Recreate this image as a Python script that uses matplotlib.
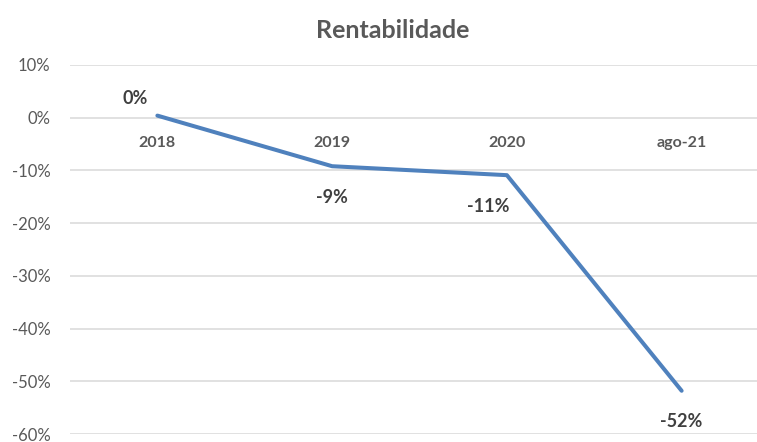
import matplotlib.pyplot as plt
from matplotlib.ticker import FuncFormatter, MultipleLocator

categories = ['2018', '2019', '2020', 'ago-21']
rentabilidade = [0.004, -0.092, -0.109, -0.518]
# label offsets in pixels (label placement as in the original sheet)
label_offsets = [(-22, 17), (0, -31), (-19, -31), (0, -31)]

plt.rcParams['font.family'] = ['Lato', 'DejaVu Sans']

fig = plt.figure(figsize=(7.57, 4.42), dpi=100)
ax = fig.add_axes([70 / 757, 1 - 434 / 442, 699 / 757, (434 - 65) / 442])

x = list(range(len(categories)))
ax.plot(x, rentabilidade, color='#4F81BD', linewidth=2.9, solid_capstyle='round', zorder=3)

ax.set_xlim(-0.5, len(categories) - 0.5)
ax.set_ylim(-0.6, 0.1)
ax.yaxis.set_major_locator(MultipleLocator(0.1))
ax.yaxis.set_major_formatter(FuncFormatter(lambda v, _: f'{v * 100:.0f}%'))
ax.grid(axis='y', color='#D9D9D9', linewidth=1.1)
ax.set_axisbelow(True)
ax.set_xticks([])
ax.tick_params(axis='y', length=0, pad=14, labelsize=12, labelcolor='#595959')
for s in ax.spines.values():
    s.set_visible(False)

# category labels sit on the zero line
for i, cat in enumerate(categories):
    ax.annotate(cat, (i, 0), xytext=(0, -25), textcoords='offset pixels',
                ha='center', va='center', fontsize=11.5, fontweight='bold', color='#595959')

# data labels
for i, (v, off) in enumerate(zip(rentabilidade, label_offsets)):
    ax.annotate(f'{v * 100:.0f}%', (i, v), xytext=off, textcoords='offset pixels',
                ha='center', va='center', fontsize=13, fontweight='bold', color='#404040')

fig.text(393 / 757, 1 - 30 / 442, 'Rentabilidade', ha='center', va='center',
         fontsize=18, fontweight='bold', color='#595959')

fig.savefig('out.png', dpi=100)
